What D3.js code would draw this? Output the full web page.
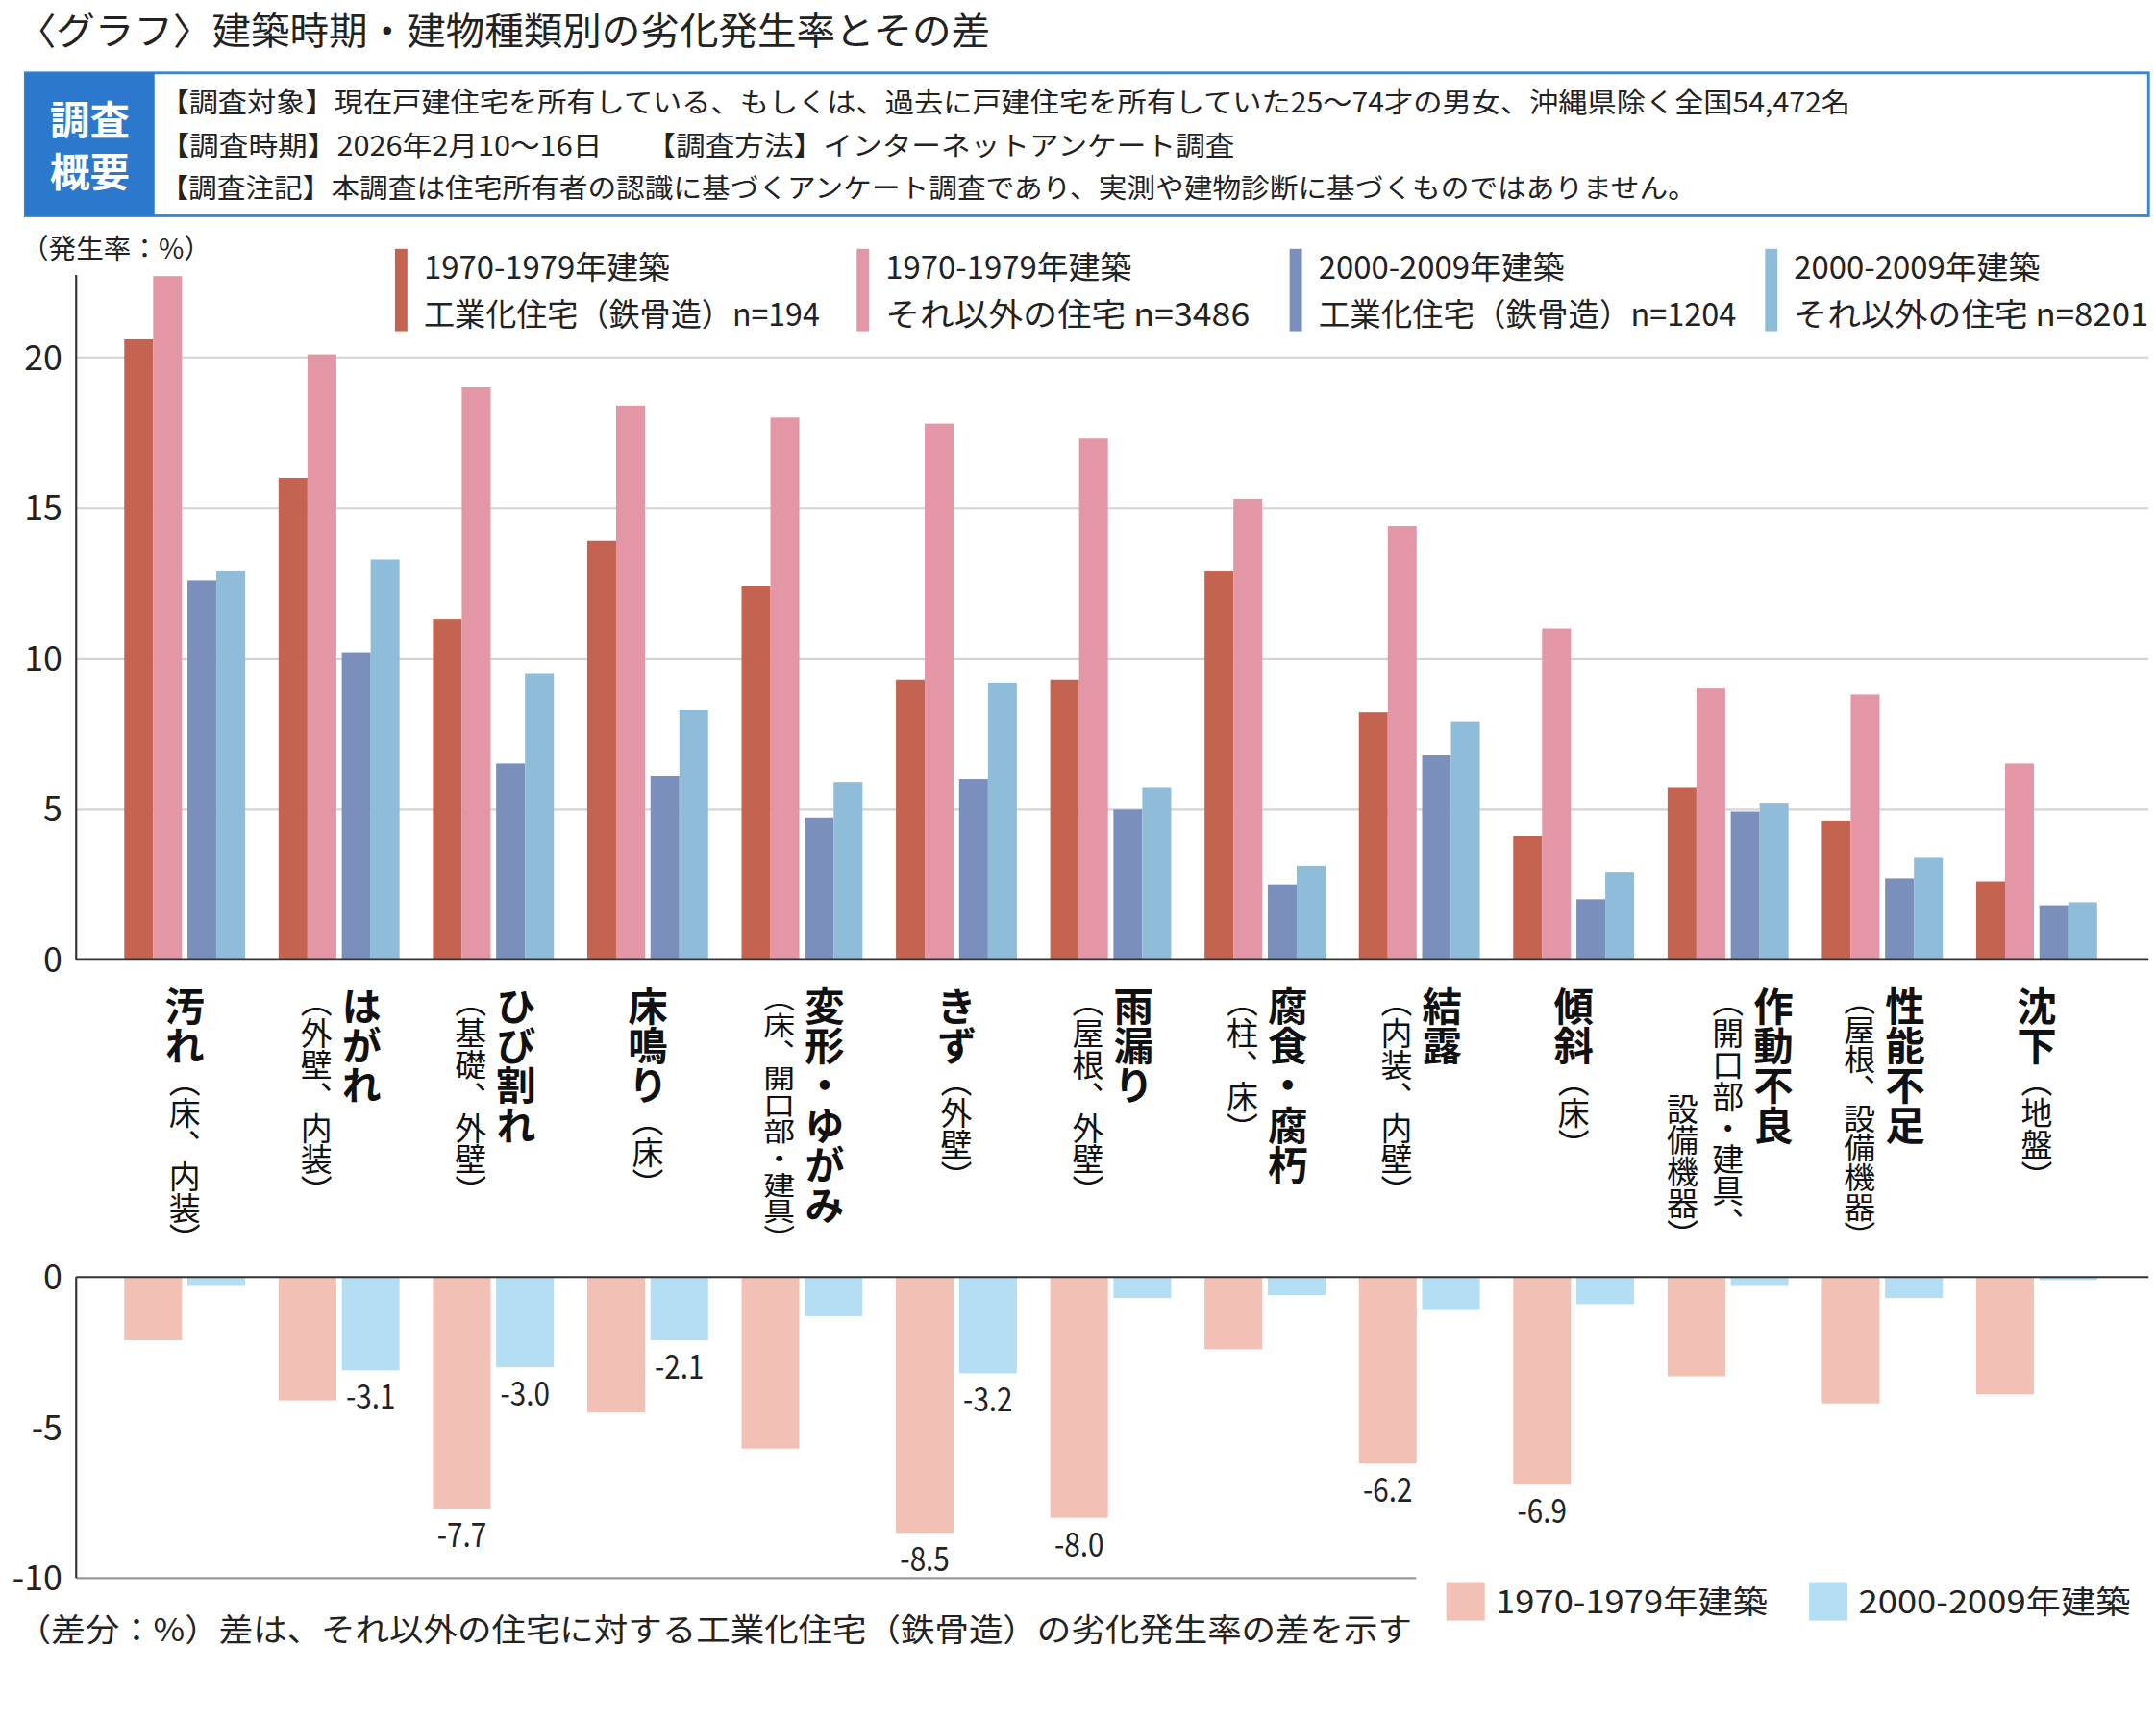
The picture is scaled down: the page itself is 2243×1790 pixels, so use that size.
<!DOCTYPE html>
<html><head><meta charset="utf-8">
<script src="https://cdn.jsdelivr.net/npm/d3@7"></script>
<style>body{margin:0;background:#fff}text{font-family:"Noto Sans CJK JP","Noto Sans",sans-serif}</style>
</head><body>
<svg id="c" width="2243" height="1790" viewBox="0 0 1568 1252"></svg>
<script>
// data
var catMain = ["汚れ","はがれ","ひび割れ","床鳴り","変形・ゆがみ","きず","雨漏り","腐食・腐朽","結露","傾斜","作動不良","性能不足","沈下"];
var catNote = [["（床、内装）"],["（外壁、内装）"],["（基礎、外壁）"],["（床）"],["（床、開口部・建具）"],["（外壁）"],["（屋根、外壁）"],["（柱、床）"],["（内装、内壁）"],["（床）"],["（開口部・建具、","設備機器）"],["（屋根、設備機器）"],["（地盤）"]];
var inlineNote = [true,false,false,true,false,true,false,false,false,true,false,false,true];
var s7Steel  = [20.6,16.0,11.3,13.9,12.4,9.3,9.3,12.9,8.2,4.1,5.7,4.6,2.6];
var s7Other  = [22.7,20.1,19.0,18.4,18.0,17.8,17.3,15.3,14.4,11.0,9.0,8.8,6.5];
var s20Steel = [12.6,10.2,6.5,6.1,4.7,6.0,5.0,2.5,6.8,2.0,4.9,2.7,1.8];
var s20Other = [12.9,13.3,9.5,8.3,5.9,9.2,5.7,3.1,7.9,2.9,5.2,3.4,1.9];
var diff7  = [-2.1,-4.1,-7.7,-4.5,-5.7,-8.5,-8.0,-2.4,-6.2,-6.9,-3.3,-4.2,-3.9];
var diff20 = [-0.3,-3.1,-3.0,-2.1,-1.3,-3.2,-0.7,-0.6,-1.1,-0.9,-0.3,-0.7,-0.1];
var label7  = [false,false,true,false,false,true,true,false,true,true,false,false,false];
var label20 = [false,true,true,true,false,true,false,false,false,false,false,false,false];
var topTicks = [0,5,10,15,20];
var diffTicks = [0,-5,-10];
var seriesNames = [["1970-1979年建築","工業化住宅（鉄骨造）n=194"],["1970-1979年建築","それ以外の住宅 n=3486"],["2000-2009年建築","工業化住宅（鉄骨造）n=1204"],["2000-2009年建築","それ以外の住宅 n=8201"]];
var colors = ["#c4634f","#e396a6","#7a8fbb","#8fbcd8"];
var diffColors = ["#f2c0b4","#b4def4"];
var diffNames = ["1970-1979年建築","2000-2009年建築"];

var svg = d3.select("#c");
svg.append("text").attr("x",12).attr("y",32).attr("font-size",27).attr("fill","#222")
  .attr("textLength",708).attr("lengthAdjust","spacingAndGlyphs").text("〈グラフ〉建築時期・建物種類別の劣化発生率とその差");

// survey box
svg.append("rect").attr("x",18).attr("y",53).attr("width",1545).attr("height",104).attr("fill","#fff").attr("stroke","#3a86d6").attr("stroke-width",2);
svg.append("rect").attr("x",18).attr("y",53).attr("width",94).attr("height",104).attr("fill","#2b78cc");
svg.append("text").attr("x",65).attr("y",98).attr("text-anchor","middle").attr("font-size",29).attr("font-weight","bold").attr("fill","#fff").text("調査");
svg.append("text").attr("x",65).attr("y",136).attr("text-anchor","middle").attr("font-size",29).attr("font-weight","bold").attr("fill","#fff").text("概要");
var boxLines = ["【調査対象】現在戸建住宅を所有している、もしくは、過去に戸建住宅を所有していた25～74才の男女、沖縄県除く全国54,472名",
  "【調査時期】2026年2月10～16日　　【調査方法】インターネットアンケート調査",
  "【調査注記】本調査は住宅所有者の認識に基づくアンケート調査であり、実測や建物診断に基づくものではありません。"];
svg.selectAll(".bl").data(boxLines).join("text").attr("x",116).attr("y",(d,i)=>82+i*31)
  .attr("font-size",19.5).attr("fill","#222").attr("textLength",(d,i)=>[1230,782,1118][i]).attr("lengthAdjust","spacingAndGlyphs").text(d=>d);

// top chart
var x = d3.scaleBand().domain(d3.range(13)).range([90,90+112.3*13]).paddingInner(0).paddingOuter(0);
var y = d3.scaleLinear().domain([0,20]).range([698,260]);
svg.append("text").attr("x",15).attr("y",188).attr("font-size",20).attr("fill","#222").text("（発生率：%）");
svg.selectAll(".g1").data(topTicks.filter(t=>t>0)).join("line").attr("x1",55).attr("x2",1563)
  .attr("y1",d=>y(d)).attr("y2",d=>y(d)).attr("stroke","#d4d4d4").attr("stroke-width",1.5);
svg.selectAll(".t1").data(topTicks).join("text").attr("x",45).attr("y",d=>y(d)+9).attr("text-anchor","end")
  .attr("font-size",25).attr("fill","#222").text(d=>d);
var series = [s7Steel,s7Other,s20Steel,s20Other];
var offs = [0,21,46,67];
series.forEach(function(s,k){
  svg.selectAll(".b"+k).data(s).join("rect").attr("x",(d,i)=>x(i)+offs[k]).attr("width",21)
    .attr("y",d=>y(d)).attr("height",d=>y(0)-y(d)).attr("fill",colors[k]);
});
svg.append("line").attr("x1",55).attr("x2",55).attr("y1",200).attr("y2",698).attr("stroke","#333").attr("stroke-width",1.5);
svg.append("line").attr("x1",55).attr("x2",1563).attr("y1",698).attr("y2",698).attr("stroke","#333").attr("stroke-width",2);

// legend
var lx = [287,623,938,1284];
var l2w = [288,265,304,258];
seriesNames.forEach(function(n,k){
  svg.append("rect").attr("x",lx[k]).attr("y",181).attr("width",9).attr("height",60).attr("fill",colors[k]);
  svg.append("text").attr("x",lx[k]+21).attr("y",203).attr("font-size",23).attr("fill","#222").text(n[0]);
  svg.append("text").attr("x",lx[k]+21).attr("y",237).attr("font-size",23).attr("fill","#222")
    .attr("textLength",l2w[k]).attr("lengthAdjust","spacingAndGlyphs").text(n[1]);
});

// category labels (vertical)
catMain.forEach(function(m,i){
  var cx = x(i)+44;
  if(inlineNote[i]){
    var t = svg.append("text").attr("x",cx).attr("y",717).style("writing-mode","vertical-rl").attr("fill","#111");
    t.append("tspan").attr("font-size",29).attr("font-weight","bold").text(m);
    t.append("tspan").attr("font-size",23).text(catNote[i][0]);
  } else {
    var n = catNote[i].length;
    var mx = cx + n*16.5;
    svg.append("text").attr("x",mx).attr("y",717).style("writing-mode","vertical-rl").attr("font-size",29).attr("font-weight","bold").attr("fill","#111").text(m);
    catNote[i].forEach(function(c,j){
      var tt = svg.append("text").attr("x",mx-33*(j+1)).attr("y",j==0?717:795).style("writing-mode","vertical-rl").attr("font-size",23).attr("fill","#111").text(c);
      if(c.length>8) tt.attr("textLength",193).attr("lengthAdjust","spacingAndGlyphs");
    });
  }
});

// difference chart
var y2 = d3.scaleLinear().domain([-10,0]).range([1148,929]);
svg.selectAll(".t2").data(diffTicks).join("text").attr("x",45).attr("y",d=>y2(d)+9).attr("text-anchor","end")
  .attr("font-size",25).attr("fill","#222").text(d=>d);
[diff7,diff20].forEach(function(s,k){
  svg.selectAll(".d"+k).data(s).join("rect").attr("x",(d,i)=>x(i)+k*46).attr("width",42)
    .attr("y",y2(0)).attr("height",d=>y2(d)-y2(0)).attr("fill",diffColors[k]);
  var lab = k==0?label7:label20;
  var pts = s.map((v,i)=>({v:v,i:i})).filter(p=>lab[p.i]);
  svg.selectAll(".dl"+k).data(pts).join("text")
    .attr("x",p=>x(p.i)+k*46+21).attr("y",p=>y2(p.v)+28).attr("text-anchor","middle")
    .attr("font-size",24).attr("fill","#222").attr("textLength",36).attr("lengthAdjust","spacingAndGlyphs").text(p=>p.v.toFixed(1));
});
svg.append("line").attr("x1",55).attr("x2",1563).attr("y1",929).attr("y2",929).attr("stroke","#333").attr("stroke-width",1.5);
svg.append("line").attr("x1",55).attr("x2",1030).attr("y1",1148).attr("y2",1148).attr("stroke","#999").attr("stroke-width",1.5);
svg.append("line").attr("x1",55).attr("x2",55).attr("y1",929).attr("y2",1148).attr("stroke","#333").attr("stroke-width",1.5);
var dlx = [1052,1316];
diffNames.forEach(function(n,k){
  svg.append("rect").attr("x",dlx[k]).attr("y",1151).attr("width",28).attr("height",28).attr("fill",diffColors[k]);
  svg.append("text").attr("x",dlx[k]+36).attr("y",1174).attr("font-size",23).attr("fill","#222")
    .attr("textLength",198).attr("lengthAdjust","spacingAndGlyphs").text(n);
});
svg.append("text").attr("x",12).attr("y",1194).attr("font-size",23).attr("fill","#222")
  .attr("textLength",1015).attr("lengthAdjust","spacingAndGlyphs").text("（差分：%）差は、それ以外の住宅に対する工業化住宅（鉄骨造）の劣化発生率の差を示す");
</script>
</body></html>
